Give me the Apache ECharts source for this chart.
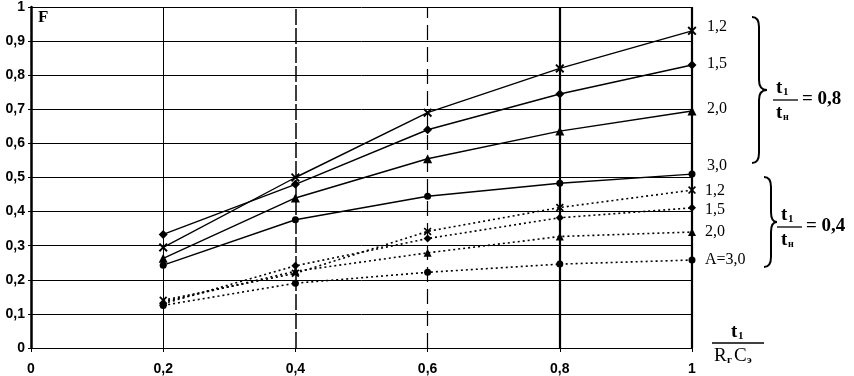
<!DOCTYPE html>
<html>
<head>
<meta charset="utf-8">
<script src="https://cdn.jsdelivr.net/npm/echarts@6/dist/echarts.min.js"></script>
<style>
html,body{margin:0;padding:0;background:#fff;}
#main{width:854px;height:376px;}
</style>
</head>
<body>
<div id="main"></div>
<script>
// x = t1/(Rг·Cэ)
var xVals = [0.2, 0.4, 0.6, 0.8, 1];
var yTicks = [0, 0.1, 0.2, 0.3, 0.4, 0.5, 0.6, 0.7, 0.8, 0.9, 1];

// t1/tн = 0,8 (solid)
var hi_12 = [0.295, 0.50, 0.69, 0.82, 0.93];
var hi_15 = [0.333, 0.48, 0.64, 0.745, 0.83];
var hi_20 = [0.263, 0.44, 0.555, 0.636, 0.695];
var hi_30 = [0.243, 0.376, 0.445, 0.483, 0.51];

// t1/tн = 0,4 (dotted)
var lo_12 = [0.14, 0.219, 0.342, 0.412, 0.463];
var lo_15 = [0.13, 0.241, 0.321, 0.382, 0.411];
var lo_20 = [0.135, 0.225, 0.279, 0.327, 0.34];
var lo_30 = [0.125, 0.19, 0.222, 0.246, 0.258];

var crossSym = 'path://M0,1.5L1.5,0L5,3.5L8.5,0L10,1.5L6.5,5L10,8.5L8.5,10L5,6.5L1.5,10L0,8.5L3.5,5Z';

function pts(arr){
	var d = [];
	for (var i = 0; i < xVals.length; i++) d.push([xVals[i], arr[i]]);
	return d;
}

function mk(name, arr, sym, size, dotted, lblText, dy, dist){
	return {
		name: name,
		type: 'line',
		data: pts(arr),
		symbol: sym,
		symbolSize: size,
		showAllSymbol: true,
		itemStyle: {color: '#000'},
		lineStyle: dotted ? {color:'#000', width:1.6, type:[2,3]} : {color:'#000', width:1.4},
		endLabel: {
			show: true,
			formatter: lblText,
			distance: dist,
			offset: [0, dy],
			color: '#000',
			fontFamily: 'Liberation Serif',
			fontSize: 16
		},
		animation: false,
		z: 3
	};
}

var series = [
	mk('s08_12', hi_12, crossSym, 9, false, '1,2', -4, 15),
	mk('s08_15', hi_15, 'diamond', 9, false, '1,5', -1, 15),
	mk('s08_20', hi_20, 'triangle', 9, false, '2,0', -2, 15),
	mk('s08_30', hi_30, 'circle', 7, false, '3,0', -8, 15),
	mk('s04_12', lo_12, crossSym, 8, true, '1,2', 1, 13),
	mk('s04_15', lo_15, 'diamond', 8, true, '1,5', 2, 13),
	mk('s04_20', lo_20, 'triangle', 8, true, '2,0', 0, 13),
	mk('s04_30', lo_30, 'circle', 7, true, 'A=3,0', 0, 13)
];

// vertical grid lines, each drawn in its own style
var vStyles = [
	{color:'#000', width:1, type:'solid'},
	{color:'#000', width:1.5, type:[16,3]},
	{color:'#000', width:1.2, type:[15,7]},
	{color:'#000', width:2.2, type:'solid'},
	{color:'#000', width:2.2, type:'solid'}
];
var vLines = [];
for (var i = 0; i < xVals.length; i++) {
	vLines.push({xAxis: xVals[i], lineStyle: vStyles[i]});
}
series[0].markLine = {
	silent: true,
	symbol: ['none','none'],
	label: {show: false},
	animation: false,
	data: vLines
};

// curly brace "}" made of curves and lines
function brace(x0, xv, xp, yt, ym, yb){
	var st = {stroke:'#000', lineWidth:2, fill:null};
	return [
		{type:'bezierCurve', shape:{x1:x0, y1:yt, x2:xv, y2:yt+10, cpx1:xv, cpy1:yt}, style:st},
		{type:'line', shape:{x1:xv, y1:yt+10, x2:xv, y2:ym-10}, style:st},
		{type:'bezierCurve', shape:{x1:xv, y1:ym-10, x2:xp, y2:ym, cpx1:xv, cpy1:ym}, style:st},
		{type:'bezierCurve', shape:{x1:xp, y1:ym, x2:xv, y2:ym+10, cpx1:xv, cpy1:ym}, style:st},
		{type:'line', shape:{x1:xv, y1:ym+10, x2:xv, y2:yb-10}, style:st},
		{type:'bezierCurve', shape:{x1:xv, y1:yb-10, x2:x0, y2:yb, cpx1:xv, cpy1:yb}, style:st}
	];
}

function txt(x, y, s, font){
	return {type:'text', x:x, y:y, style:{text:s, font:font, fill:'#000'}};
}

var big = 'bold 19px "Liberation Serif"';
var sub = 'bold 11px "Liberation Serif"';

var graphics = [txt(38, 9, 'F', 'bold 17px "Liberation Serif"')]
	.concat(brace(752, 759, 767, 17, 90, 163))
	.concat([
		txt(776, 79, 't', big), txt(783, 87, '1', sub),
		{type:'line', shape:{x1:773, y1:100, x2:798, y2:100}, style:{stroke:'#000', lineWidth:1.3}},
		txt(776, 104, 't', big), txt(783, 112, 'н', 'bold 10px "Liberation Serif"'),
		txt(802, 90, '= 0,8', big)
	])
	.concat(brace(764, 771, 777, 177, 222, 267))
	.concat([
		txt(781, 206, 't', big), txt(788, 214, '1', sub),
		{type:'line', shape:{x1:777, y1:227, x2:802, y2:227}, style:{stroke:'#000', lineWidth:1.3}},
		txt(781, 231, 't', big), txt(788, 239, 'н', 'bold 10px "Liberation Serif"'),
		txt(806, 217, '= 0,4', big)
	])
	.concat([
		txt(731, 323, 't', big), txt(738, 331, '1', sub),
		{type:'line', shape:{x1:712, y1:343, x2:764, y2:343}, style:{stroke:'#000', lineWidth:1.3}},
		txt(714, 347, 'R', '19px "Liberation Serif"'),
		txt(727, 355, 'г', sub),
		txt(734, 347, 'C', '19px "Liberation Serif"'),
		txt(747, 355, 'э', sub)
	]);

var option = {
	backgroundColor: '#fff',
	animation: false,
	grid: {left: 31, right: 162, top: 5, bottom: 28},
	xAxis: {
		type: 'value',
		min: 0, max: 1, interval: 0.2,
		axisLine: {show: true, lineStyle: {color:'#000', width:1}},
		axisTick: {show: true, length: 4, lineStyle: {color:'#000'}},
		splitLine: {show: false},
		axisLabel: {
			margin: 14,
			color: '#000',
			fontFamily: 'Liberation Sans',
			fontWeight: 'bold',
			fontSize: 14,
			formatter: function(v){ return String(+v.toFixed(1)).replace('.', ','); }
		}
	},
	yAxis: {
		type: 'value',
		min: 0, max: 1, interval: 0.1,
		axisLine: {show: true, lineStyle: {color:'#000', width:2.5}},
		axisTick: {show: true, length: 3, lineStyle: {color:'#000'}},
		splitLine: {show: true, lineStyle: {color:'#000', width:1}},
		axisLabel: {
			margin: 6,
			color: '#000',
			fontFamily: 'Liberation Sans',
			fontWeight: 'bold',
			fontSize: 14,
			formatter: function(v){ return String(+v.toFixed(1)).replace('.', ','); }
		}
	},
	graphic: graphics,
	series: series
};

var myChart = echarts.init(document.getElementById('main'));
myChart.setOption(option);
</script>
</body>
</html>
